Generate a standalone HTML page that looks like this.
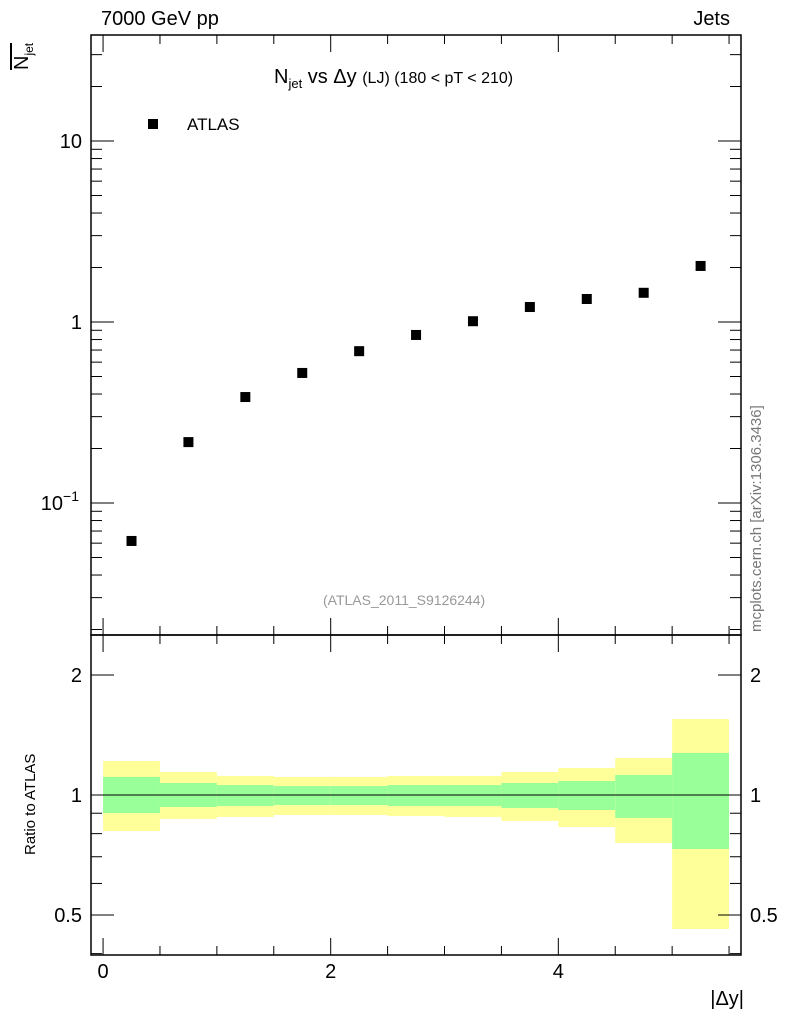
<!DOCTYPE html>
<html><head><meta charset="utf-8"><style>
body{margin:0;background:#fff}
svg text{font-family:"Liberation Sans",sans-serif}
</style></head><body>
<svg id="c" width="786" height="1024" xmlns="http://www.w3.org/2000/svg"></svg>
<script>
const binEdges=[0,0.5,1,1.5,2,2.5,3,3.5,4,4.5,5,5.5];
const dataVals=[0.0617,0.217,0.385,0.523,0.69,0.848,1.01,1.21,1.34,1.45,2.04];
const yelLo=[0.812,0.871,0.881,0.891,0.891,0.886,0.881,0.861,0.831,0.758,0.461];
const yelHi=[1.217,1.142,1.116,1.110,1.110,1.116,1.116,1.142,1.169,1.238,1.551];
const grnLo=[0.901,0.933,0.938,0.944,0.944,0.938,0.938,0.928,0.917,0.876,0.732];
const grnHi=[1.110,1.072,1.059,1.053,1.053,1.059,1.059,1.072,1.084,1.123,1.275];
const xTicks=[0,2,4];
const mainTicks=[{v:0.1,l:"10"},{v:1,l:"1"},{v:10,l:"10"}];
const ratioTicks=[{v:0.5,l:"0.5"},{v:1,l:"1"},{v:2,l:"2"}];

const L=91,R=741,T=35,M=635,B=955;
const xmin=-0.106,xmax=5.605;
const X=v=>L+(v-xmin)/(xmax-xmin)*(R-L);
const YM=v=>141-(Math.log10(v)-1)*181;
const YR=v=>795-Math.log10(v)*398.6;
const svg=document.getElementById('c');
const NS="http://www.w3.org/2000/svg";
function el(t,a,name,txt){const e=document.createElementNS(NS,t);for(const k in a)e.setAttribute(k,a[k]);


if(txt!==undefined)e.textContent=txt;svg.appendChild(e);return e;}
function line(x1,y1,x2,y2,n,w){return el('line',{x1,y1,x2,y2,stroke:'#000','stroke-width':w||1},n);}

for(let i=0;i<dataVals.length;i++){
 const x1=X(binEdges[i]),x2=X(binEdges[i+1]);
 el('rect',{x:x1,y:YR(yelHi[i]),width:x2-x1,height:YR(yelLo[i])-YR(yelHi[i]),fill:'#ffff99'},'yellow-band-'+i);
 el('rect',{x:x1,y:YR(grnHi[i]),width:x2-x1,height:YR(grnLo[i])-YR(grnHi[i]),fill:'#99ff99'},'green-band-'+i);
}
line(X(0),YR(1),X(5.5),YR(1),'ratio-reference-line');
dataVals.forEach((v,i)=>{const xc=X((binEdges[i]+binEdges[i+1])/2);
 el('rect',{x:xc-5,y:YM(v)-5,width:10,height:10,fill:'#000'},'data-point-'+i);});
el('rect',{x:L,y:T,width:R-L,height:M-T,fill:'none',stroke:'#000','stroke-width':1.5},'main-frame');
el('rect',{x:L,y:M,width:R-L,height:B-M,fill:'none',stroke:'#000','stroke-width':1.5},'ratio-frame');
for(let v=0;v<=5.5001;v+=0.5){const maj=Math.abs(v-Math.round(v/2)*2)<1e-6;const len=maj?17:9;const x=X(v);
 [[T,1],[M,-1],[M,1],[B,-1]].forEach(([y,d])=>line(x,y,x,y+d*len,'x-tick'));}
xTicks.forEach(v=>el('text',{x:X(v),y:978,'font-size':20,'text-anchor':'middle'},'x-tick-label',String(v)));
for(let e=-2;e<=1;e++)for(let m=1;m<=9;m++){const v=m*Math.pow(10,e);const y=YM(v);if(y<T||y>M)continue;
 const len=m===1?23:11;line(L,y,L+len,y,'main-y-tick');line(R,y,R-len,y,'main-y-tick');}
mainTicks.forEach(t=>{const g=el('text',{x:82,y:YM(t.v)+7,'font-size':20,'text-anchor':'end'},'main-y-tick-label',t.l);
 if(t.v===0.1){g.textContent='';g.setAttribute('x',79);
 const a=document.createElementNS(NS,'tspan');a.textContent='10';g.appendChild(a);
 const b=document.createElementNS(NS,'tspan');b.setAttribute('dy',-9);b.setAttribute('font-size',14);b.textContent='−1';g.appendChild(b);}});
[0.4,0.5,0.6,0.7,0.8,0.9,1,2].forEach(v=>{const y=YR(v);if(y<M||y>B)return;const len=(v===0.5||v===1||v===2)?23:11;
 line(L,y,L+len,y,'ratio-y-tick');line(R,y,R-len,y,'ratio-y-tick');});
ratioTicks.forEach(t=>{el('text',{x:82,y:YR(t.v)+7,'font-size':20,'text-anchor':'end'},'ratio-y-tick-label-left',t.l);
 el('text',{x:750,y:YR(t.v)+7,'font-size':20},'ratio-y-tick-label-right',t.l);});
</script>
<div style="position:absolute;left:0;top:0;width:786px;height:1024px;font-family:'Liberation Sans',sans-serif;pointer-events:none">
<div style="position:absolute;left:101px;top:8px;font-size:20px">7000 GeV pp</div>
<div style="position:absolute;right:56px;top:8px;font-size:20px">Jets</div>
<div style="position:absolute;left:274px;top:66px;font-size:20px;white-space:nowrap">N<sub style="font-size:13px">jet</sub> vs Δy <span style="font-size:16px">(LJ) (180 &lt; pT &lt; 210)</span></div>
<div style="position:absolute;left:148px;top:119px;width:10px;height:10px;background:#000"></div>
<div style="position:absolute;left:187px;top:115px;font-size:17px">ATLAS</div>
<div style="position:absolute;left:323px;top:592px;font-size:14px;color:#999">(ATLAS_2011_S9126244)</div>
<div style="position:absolute;left:10px;top:70px;transform:rotate(-90deg);transform-origin:0 0;font-size:20px;white-space:nowrap;border-top:2px solid #000;line-height:20px">N<sub style="font-size:12px">jet</sub></div>
<div style="position:absolute;left:22px;top:855px;transform:rotate(-90deg);transform-origin:0 0;font-size:15px;white-space:nowrap">Ratio to ATLAS</div>
<div style="position:absolute;right:42px;top:988px;font-size:20px">|Δy|</div>
<div style="position:absolute;left:748px;top:632px;transform:rotate(-90deg);transform-origin:0 0;font-size:15px;color:#777;white-space:nowrap">mcplots.cern.ch [arXiv:1306.3436]</div>
</div>
</body></html>
